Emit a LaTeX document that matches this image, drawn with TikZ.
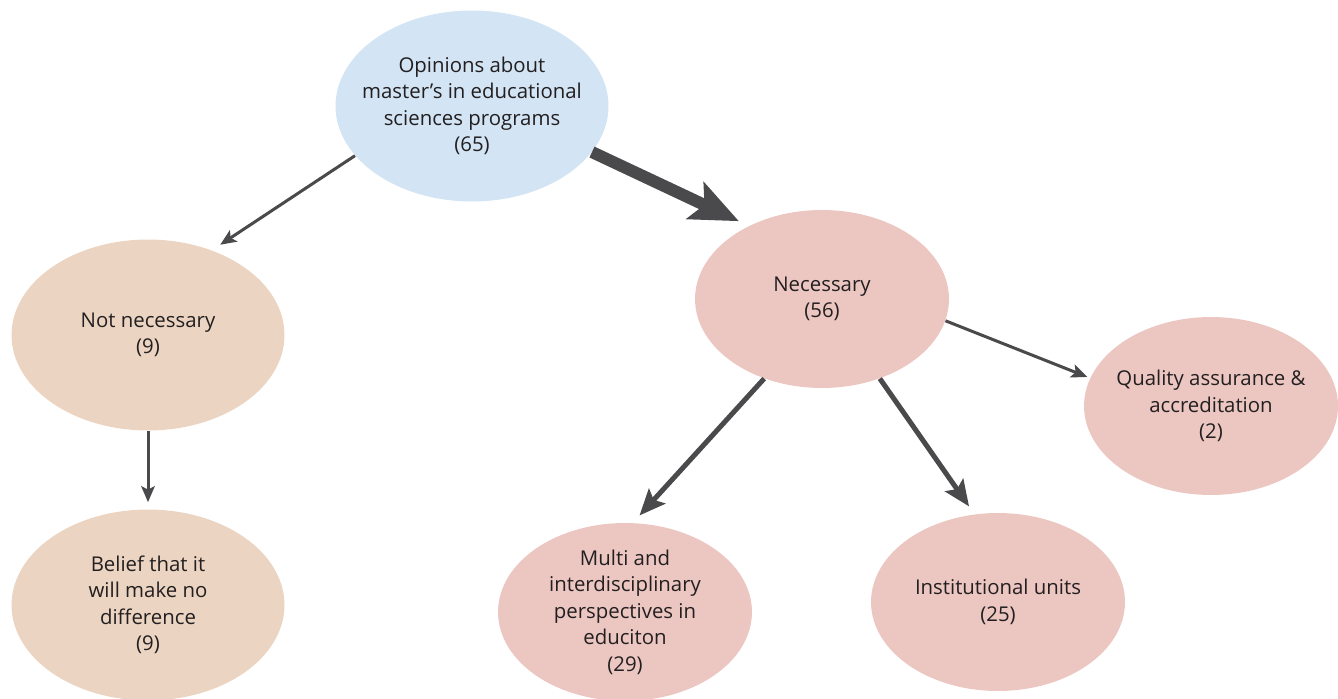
\documentclass[tikz,border=0pt]{standalone}
\usepackage{fontspec}
\setmainfont{Open Sans}
\usepackage{xcolor}
\usepackage{tikz}
\usetikzlibrary{shapes,arrows,positioning,calc,arrows.meta}

\definecolor{opinionblue}{HTML}{D3E5F4}
\definecolor{notneedtan}{HTML}{EBD5C2}
\definecolor{needpink}{HTML}{ECC7C2}
\definecolor{arrowgray}{HTML}{4A4A4C}
\definecolor{textgray}{HTML}{231F20}

\tikzset{
    bubble/.style={ellipse, inner sep=0pt, align=center, text=textgray, font=\fontsize{11.6}{15.1}\selectfont},
    bigbubble/.style={bubble, minimum width=5.46cm, minimum height=3.82cm},
    smallbubble/.style={bubble, minimum width=5.08cm, minimum height=3.56cm},
    thinarrow/.style={draw=arrowgray, line width=0.06cm, -{Stealth[length=0.32cm, width=0.27cm, inset=0.07cm]}},
    midarrow/.style={draw=arrowgray, line width=0.1cm, -{Stealth[length=0.52cm, width=0.44cm, inset=0.1cm]}},
    bigarrow/.style={draw=arrowgray, line width=0.24cm, -{Stealth[length=0.96cm, width=0.8cm, inset=0.2cm]}}
}

\begin{document}
\begin{tikzpicture}[x=0.02cm, y=-0.02cm]
    \useasboundingbox (0,0) rectangle (1338,699);

    % Top
    \node[bigbubble, inner xsep=-0.3cm, fill=opinionblue] (opinions) at (472,106) {Opinions about\\master’s in educational\\sciences programs\\(65)};

    % Not necessary branch
    \node[bigbubble, fill=notneedtan] (notneed) at (148,335) {Not necessary\\(9)};
    \node[bigbubble, fill=notneedtan] (belief) at (148,605) {Belief that it\\will make no\\difference\\(9)};

    % Necessary branch
    \node[smallbubble, fill=needpink] (need) at (822,299) {Necessary\\(56)};
    \node[smallbubble, inner xsep=-0.12cm, fill=needpink] (quality) at (1211,406) {Quality assurance \&\\accreditation\\(2)};
    \node[smallbubble, fill=needpink] (multi) at (625,612) {Multi and\\interdisciplinary\\perspectives in\\educiton\\(29)};
    \node[smallbubble, fill=needpink] (units) at (998,602) {Institutional units\\(25)};

    % Arrows
    \draw[thinarrow, shorten >=0.2cm] (opinions.203.9) -- (notneed.53.2);
    \draw[bigarrow, shorten >=0.22cm] (opinions.339) -- (need.135.7);
    \draw[thinarrow, shorten >=0.14cm] (notneed.south) -- (belief.north);
    \draw[thinarrow, shorten >=0.06cm] (need.350.8) -- (quality.167.5);
    \draw[midarrow, shorten >=0.2cm] (need.234.2) -- (multi.85.9);
    \draw[midarrow, shorten >=0.19cm] (need.306.3) -- (units.105.8);
\end{tikzpicture}
\end{document}
